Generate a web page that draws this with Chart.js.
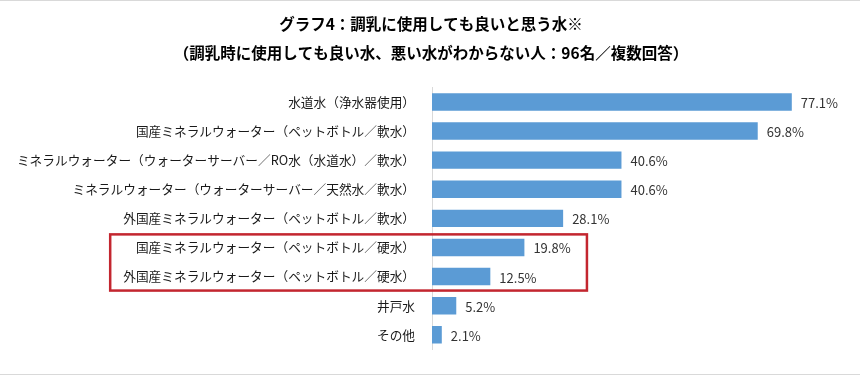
<!DOCTYPE html>
<html>
<head>
<meta charset="utf-8">
<script src="https://cdn.jsdelivr.net/npm/chart.js@4"></script>
<style>
  html, body { margin: 0; padding: 0; background: #fff; }
  #wrap {
    width: 860px; height: 375px; box-sizing: border-box;
    border-top: 1px solid #d9d9d9; border-bottom: 1px solid #d9d9d9;
  }
  #water-chart { display: block; }
</style>
</head>
<body>
<div id="wrap"><canvas id="water-chart" width="860" height="373"></canvas></div>
<script>
// categories, top to bottom
const labels = [
  '水道水（浄水器使用）',
  '国産ミネラルウォーター（ペットボトル／軟水）',
  'ミネラルウォーター（ウォーターサーバー／RO水（水道水）／軟水）',
  'ミネラルウォーター（ウォーターサーバー／天然水／軟水）',
  '外国産ミネラルウォーター（ペットボトル／軟水）',
  '国産ミネラルウォーター（ペットボトル／硬水）',
  '外国産ミネラルウォーター（ペットボトル／硬水）',
  '井戸水',
  'その他'
];
const percents = [77.1, 69.8, 40.6, 40.6, 28.1, 19.8, 12.5, 5.2, 2.1];
const highlighted = [5, 6]; // rows inside the red box
const titleLines = [
  'グラフ4：調乳に使用しても良いと思う水※',
  '（調乳時に使用しても良い水、悪い水がわからない人：96名／複数回答）'
];

const FONT = '"Noto Sans CJK JP", "Noto Sans", sans-serif';
const LABEL_SIZE = 12.7;

// value labels to the right of each bar
const valueLabels = {
  id: 'valueLabels',
  afterDatasetsDraw(chart) {
    const ctx = chart.ctx;
    const meta = chart.getDatasetMeta(0);
    ctx.save();
    ctx.font = '13px ' + FONT;
    ctx.fillStyle = '#333';
    ctx.textAlign = 'left';
    ctx.textBaseline = 'middle';
    meta.data.forEach((bar, i) => {
      ctx.fillText(percents[i].toFixed(1) + '%', bar.x + 9, bar.y + 1);
    });
    ctx.restore();
  }
};

// red frame around the hard-water rows
const redBox = {
  id: 'redBox',
  afterDatasetsDraw(chart) {
    const ctx = chart.ctx;
    const x = chart.scales.x, y = chart.scales.y;
    const step = y.getPixelForValue(1) - y.getPixelForValue(0);
    const first = highlighted[0], last = highlighted[highlighted.length - 1];
    const top = y.getPixelForValue(first) - step * 0.45;
    const bottom = y.getPixelForValue(last) + step * 0.48;
    ctx.save();
    ctx.font = LABEL_SIZE + 'px ' + FONT;
    let widest = 0;
    highlighted.forEach(i => { widest = Math.max(widest, ctx.measureText(labels[i]).width); });
    const left = chart.chartArea.left - 17 - widest - 13;
    const right = x.getPixelForValue(33.2);
    ctx.strokeStyle = '#c3262f';
    ctx.lineWidth = 2.5;
    ctx.strokeRect(left, top, right - left, bottom - top);
    ctx.restore();
  }
};

new Chart(document.getElementById('water-chart'), {
  type: 'bar',
  data: {
    labels: labels,
    datasets: [{
      data: percents,
      backgroundColor: '#5b9bd5',
      borderWidth: 0,
      categoryPercentage: 1,
      barPercentage: 0.6
    }]
  },
  options: {
    indexAxis: 'y',
    responsive: false,
    animation: false,
    layout: { padding: { left: 10, right: 8, top: 0, bottom: 16 } },
    plugins: {
      legend: { display: false },
      tooltip: { enabled: false },
      title: {
        display: true,
        text: titleLines,
        color: '#000',
        font: { family: FONT, size: 15.5, weight: 'bold', lineHeight: 1.85 },
        padding: { top: 9, bottom: 20 }
      }
    },
    scales: {
      x: {
        display: false,
        min: 0,
        max: 90
      },
      y: {
        afterFit(scale) { scale.width = 422; },
        grid: { display: false, drawTicks: false },
        border: { display: true, color: '#d9d9d9', width: 1 },
        ticks: {
          color: '#1a1a1a',
          padding: 17,
          font: { family: FONT, size: LABEL_SIZE }
        }
      }
    }
  },
  plugins: [valueLabels, redBox]
});
</script>
</body>
</html>
